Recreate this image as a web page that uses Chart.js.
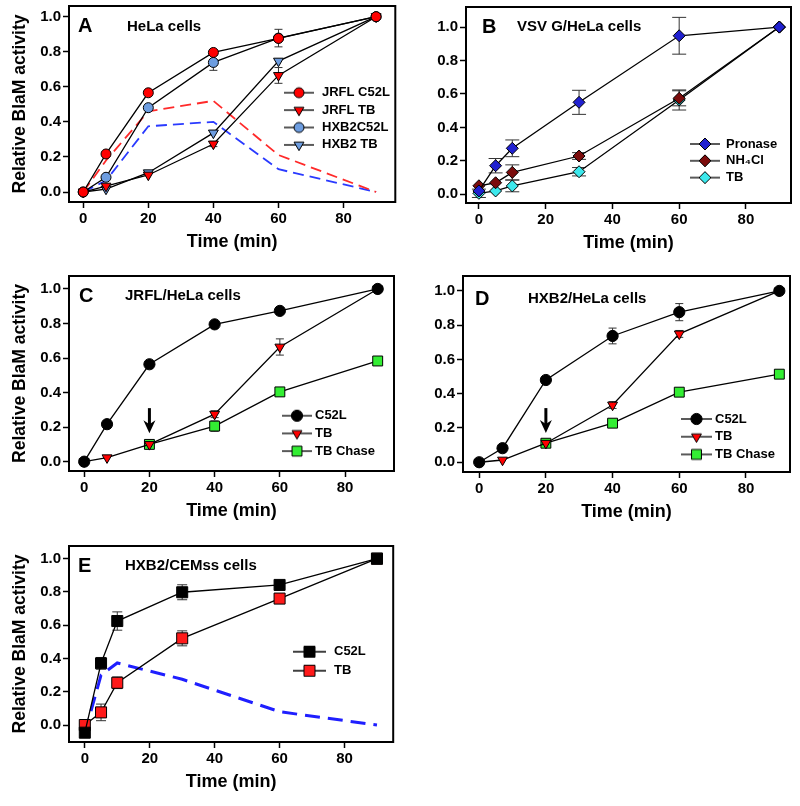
<!DOCTYPE html>
<html><head><meta charset="utf-8">
<script src="https://cdn.jsdelivr.net/npm/chart.js"></script>
<style>
html,body{margin:0;padding:0;background:#fff;}
#wrap{position:relative;width:800px;height:806px;overflow:hidden;background:#fff;}
#wrap canvas{position:absolute;}
</style></head><body><div id="wrap"></div>
<script>
// ================= DATA =================
const xTickValues = [0, 20, 40, 60, 80];
const yTickValues = [0, 0.2, 0.4, 0.6, 0.8, 1.0];

// Panel A – HeLa cells
const timeA = [0, 7, 20, 40, 60, 90];
const aJrflC52L = [0, 0.217, 0.566, 0.796, 0.876, 1.0];
const aJrflC52LErr = [0, 0, 0, 0.015, 0, 0];
const aJrflTB = [0, 0.034, 0.097, 0.274, 0.665, 1.0];
const aJrflTBErr = [0, 0, 0, 0.015, 0.045, 0];
const aHxb2C52L = [0, 0.084, 0.481, 0.739, 0.878, 1.0];
const aHxb2C52LErr = [0, 0, 0, 0.045, 0.05, 0];
const aHxb2TB = [0, 0.017, 0.11, 0.337, 0.747, 1.0];
const aJrflDiff = [0, 0.18, 0.46, 0.52, 0.211, 0];
const aHxb2Diff = [0, 0.065, 0.375, 0.40, 0.13, 0];

// Panel B – VSV G/HeLa cells
const timeB = [0, 5, 10, 30, 60, 90];
const bPronase = [0.02, 0.171, 0.275, 0.55, 0.948, 1.0];
const bPronaseErr = [0, 0.043, 0.05, 0.072, 0.11, 0];
const bNH4Cl = [0.051, 0.069, 0.131, 0.229, 0.574, 1.0];
const bNH4ClErr = [0, 0, 0.045, 0.02, 0.045, 0];
const bTB = [0.006, 0.02, 0.05, 0.135, 0.564, 1.0];
const bTBErr = [0.025, 0, 0.035, 0.025, 0.06, 0];

// Panel C – JRFL/HeLa cells
const timeC = [0, 7, 20, 40, 60, 90];
const timeChase = [20, 40, 60, 90];
const cC52L = [0, 0.217, 0.564, 0.795, 0.873, 1.0];
const cTB = [0, 0.023, 0.10, 0.275, 0.664, 1.0];
const cTBErr = [0, 0, 0.015, 0.02, 0.047, 0];
const cChase = [0.10, 0.206, 0.404, 0.583];
const cChaseErr = [0, 0.03, 0, 0];
const arrowC = [20, 0.31, 0.165];

// Panel D – HXB2/HeLa cells
const timeD = [0, 7, 20, 40, 60, 90];
const dC52L = [0, 0.082, 0.48, 0.737, 0.876, 1.0];
const dC52LErr = [0, 0, 0, 0.046, 0.05, 0];
const dTB = [0, 0.013, 0.111, 0.334, 0.749, 1.0];
const dTBErr = [0, 0, 0, 0.02, 0.02, 0];
const dChase = [0.111, 0.228, 0.409, 0.514];
const arrowD = [20, 0.316, 0.17];

// Panel E – HXB2/CEMss cells
const timeE = [0, 5, 10, 30, 60, 90];
const eC52L = [-0.046, 0.371, 0.625, 0.798, 0.842, 1.0];
const eC52LErr = [0.015, 0.035, 0.055, 0.045, 0.012, 0];
const eTB = [0, 0.076, 0.254, 0.521, 0.76, 1.0];
const eTBErr = [0.01, 0.05, 0.035, 0.045, 0.03, 0];
const eDiff = [-0.05, 0.30, 0.373, 0.275, 0.08, 0];

// ================= HELPERS =================
const FONT = 'Arial, "Liberation Sans", Helvetica, sans-serif';
Chart.defaults.font.family = FONT;
Chart.defaults.color = '#000';

function pts(xs, ys) { return xs.map((x, i) => ({ x: x, y: ys[i] })); }
function mk(style, r, fill, rot) { return { style: style, r: r, fill: fill, rot: rot || 0 }; }

function series(label, xs, ys, errs, m) {
  return {
    label: label, data: pts(xs, ys), errors: errs || null, legendMarker: m,
    showLine: true, borderColor: '#000', borderWidth: 1.3, tension: 0, fill: false,
    pointStyle: m.style, pointRadius: m.r, pointHoverRadius: m.r, pointRotation: m.rot,
    pointBackgroundColor: m.fill, pointBorderColor: '#000', pointBorderWidth: 1, order: 1
  };
}
function dashed(xs, ys, color, width, dash) {
  return { label: '', data: pts(xs, ys), showLine: true, borderColor: color, borderWidth: width,
    borderDash: dash, pointRadius: 0, pointHoverRadius: 0, tension: 0, fill: false, order: 10 };
}

function drawMarker(g, m, x, y) {
  const r = m.r;
  g.beginPath();
  if (m.style === 'circle') {
    g.arc(x, y, r, 0, Math.PI * 2);
  } else if (m.style === 'triangle') {
    let a = m.rot * Math.PI / 180;
    for (let k = 0; k < 3; k++) {
      const px = x + Math.sin(a) * r, py = y - Math.cos(a) * r;
      if (k === 0) g.moveTo(px, py); else g.lineTo(px, py);
      a += 2 * Math.PI / 3;
    }
  } else if (m.style === 'rectRot') {
    g.moveTo(x - r, y); g.lineTo(x, y - r); g.lineTo(x + r, y); g.lineTo(x, y + r);
  } else {
    const s = Math.SQRT1_2 * r;
    g.rect(x - s, y - s, 2 * s, 2 * s);
  }
  g.closePath();
  g.fillStyle = m.fill; g.fill();
  g.lineWidth = 1; g.strokeStyle = '#000'; g.stroke();
}
function makeIcon(m, L) {
  const c = document.createElement('canvas');
  c.width = L; c.height = 18;
  const g = c.getContext('2d');
  g.strokeStyle = '#000'; g.lineWidth = 1.3;
  g.beginPath(); g.moveTo(0, 9); g.lineTo(L, 9); g.stroke();
  drawMarker(g, m, L / 2, 9);
  return c;
}

// ================= PLUGINS =================
const errorBars = {
  id: 'errorBars',
  beforeDatasetsDraw(chart, args, o) {
    const ctx = chart.ctx, xs = chart.scales.x, ys = chart.scales.y;
    ctx.save();
    ctx.strokeStyle = '#333'; ctx.lineWidth = 1;
    chart.data.datasets.forEach(ds => {
      if (!ds.errors) return;
      ds.data.forEach((p, j) => {
        const e = ds.errors[j];
        if (!e) return;
        const px = xs.getPixelForValue(p.x);
        const y1 = ys.getPixelForValue(p.y - e), y2 = ys.getPixelForValue(p.y + e);
        ctx.beginPath();
        ctx.moveTo(px, y1); ctx.lineTo(px, y2);
        ctx.moveTo(px - o.cap, y1); ctx.lineTo(px + o.cap, y1);
        ctx.moveTo(px - o.cap, y2); ctx.lineTo(px + o.cap, y2);
        ctx.stroke();
      });
    });
    ctx.restore();
  }
};
const frame = {
  id: 'frame',
  afterDatasetsDraw(chart) {
    const ctx = chart.ctx, a = chart.chartArea;
    ctx.save(); ctx.lineWidth = 2; ctx.strokeStyle = '#000';
    ctx.strokeRect(a.left, a.top, a.right - a.left, a.bottom - a.top);
    ctx.restore();
  }
};
const panelText = {
  id: 'panelText',
  afterDraw(chart, args, o) {
    const ctx = chart.ctx, a = chart.chartArea;
    ctx.save(); ctx.fillStyle = '#000'; ctx.textBaseline = 'middle'; ctx.textAlign = 'left';
    ctx.font = 'bold 20px ' + FONT;
    ctx.fillText(o.letter, a.left + o.lx, a.top + o.ly);
    ctx.font = 'bold 15px ' + FONT;
    ctx.fillText(o.title, a.left + o.tx, a.top + o.ty);
    ctx.restore();
  }
};
const arrowPlugin = {
  id: 'arrow',
  afterDatasetsDraw(chart, args, o) {
    if (!o.data) return;
    const ctx = chart.ctx;
    const x = chart.scales.x.getPixelForValue(o.data[0]);
    const y1 = chart.scales.y.getPixelForValue(o.data[1]);
    const y2 = chart.scales.y.getPixelForValue(o.data[2]);
    ctx.save(); ctx.strokeStyle = '#000'; ctx.fillStyle = '#000'; ctx.lineWidth = 3;
    ctx.beginPath(); ctx.moveTo(x, y1); ctx.lineTo(x, y2 - 8); ctx.stroke();
    ctx.beginPath(); ctx.moveTo(x, y2); ctx.lineTo(x - 6, y2 - 13); ctx.lineTo(x, y2 - 9); ctx.lineTo(x + 6, y2 - 13);
    ctx.closePath(); ctx.fill();
    ctx.restore();
  }
};
const legendPos = {
  id: 'legendPos',
  afterLayout(chart, args, o) {
    const L = chart.legend; if (!L) return;
    const a = chart.chartArea, pad = L.options.labels.padding;
    const dx = a.left + o.x - pad - L.left, dy = a.top + o.y - pad - L.top;
    L.left += dx; L.right += dx; L.top += dy; L.bottom += dy;
  }
};

// ================= PANELS =================
const wrap = document.getElementById('wrap');

function makePanel(p) {
  const cv = document.createElement('canvas');
  const left = p.box[0] - 69, top = p.box[1] - 16;
  const W = p.box[2] + 5 - left, H = p.box[3] + 58 - top;
  cv.width = W; cv.height = H;
  cv.style.left = left + 'px'; cv.style.top = top + 'px';
  cv.style.width = W + 'px'; cv.style.height = H + 'px';
  wrap.appendChild(cv);
  const lg = p.legend;
  const psw = 2 * (lg.textX - lg.lineX - lg.lineLen / 2 - 6.5);
  new Chart(cv, {
    type: 'scatter',
    data: { datasets: p.datasets },
    options: {
      responsive: false, animation: false, events: [],
      layout: { padding: { left: 0, top: 16, right: 5, bottom: 7 } },
      scales: {
        x: {
          type: 'linear', min: p.xRange[0], max: p.xRange[1],
          afterFit: s => { s.height = 51; },
          afterBuildTicks: s => { s.ticks = xTickValues.map(v => ({ value: v })); },
          ticks: { padding: 2, color: '#000', autoSkip: false,
            font: { size: 15, weight: 'bold' }, callback: v => String(v) },
          grid: { drawOnChartArea: false, drawTicks: true, tickLength: 6, tickColor: '#000', tickWidth: 1.5 },
          border: { display: false },
          title: { display: true, text: 'Time (min)', color: '#000',
            font: { size: 18, weight: 'bold' }, padding: { top: 0, bottom: 0 } }
        },
        y: {
          type: 'linear', min: p.yRange[0], max: p.yRange[1],
          afterFit: s => { s.width = 69; },
          afterBuildTicks: s => { s.ticks = yTickValues.map(v => ({ value: v })); },
          ticks: { padding: 2, color: '#000', autoSkip: false,
            font: { size: 15, weight: 'bold' }, callback: v => Number(v).toFixed(1) },
          grid: { drawOnChartArea: false, drawTicks: true, tickLength: 6, tickColor: '#000', tickWidth: 1.5 },
          border: { display: false },
          title: { display: p.yTitle, text: 'Relative BlaM activity', color: '#000',
            font: { size: 17.5, weight: 'bold' }, padding: { top: 10, bottom: 0 } }
        }
      },
      plugins: {
        tooltip: { enabled: false },
        legend: {
          display: true, position: 'chartArea', align: 'start',
          labels: {
            usePointStyle: true, pointStyleWidth: psw, boxHeight: 13,
            padding: lg.spacing - 13, color: '#000',
            font: { size: 13, weight: 'bold' },
            generateLabels: chart => chart.data.datasets.map((ds, i) => ds.legendMarker ? {
              text: ds.label, pointStyle: makeIcon(ds.legendMarker, lg.lineLen),
              fillStyle: ds.legendMarker.fill, strokeStyle: '#000', lineWidth: 0,
              hidden: false, datasetIndex: i, fontColor: '#000', rotation: 0
            } : null).filter(Boolean)
          }
        },
        legendPos: { x: lg.lineX + lg.lineLen / 2 - psw / 2, y: lg.rowY - 6.5 },
        errorBars: { cap: p.cap },
        panelText: p.text,
        arrow: { data: p.arrow || null }
      }
    },
    plugins: [errorBars, frame, panelText, arrowPlugin, legendPos]
  });
}

const RED = '#ff0000', LBLUE = '#6d9de0', GREEN = '#33ee33';

makePanel({
  box: [69, 6, 397, 202], xRange: [-4.37, 95.9], yRange: [-0.057, 1.061], yTitle: true, cap: 4,
  text: { letter: 'A', lx: 9, ly: 20, title: 'HeLa cells', tx: 58, ty: 21 },
  legend: { lineX: 215, rowY: 86.7, lineLen: 30, textX: 253, spacing: 17.4 },
  datasets: [
    series('JRFL C52L', timeA, aJrflC52L, aJrflC52LErr, mk('circle', 5, RED)),
    series('JRFL TB', timeA, aJrflTB, aJrflTBErr, mk('triangle', 5.7, RED, 180)),
    series('HXB2C52L', timeA, aHxb2C52L, aHxb2C52LErr, mk('circle', 5, LBLUE)),
    series('HXB2 TB', timeA, aHxb2TB, null, mk('triangle', 5.7, LBLUE, 180)),
    dashed(timeA, aJrflDiff, '#ff2a2a', 1.8, [11, 6]),
    dashed(timeA, aHxb2Diff, '#2a3aff', 1.8, [11, 6])
  ]
});

makePanel({
  box: [466, 7, 793, 203], xRange: [-3.87, 93.5], yRange: [-0.052, 1.12], yTitle: false, cap: 7,
  text: { letter: 'B', lx: 16, ly: 20, title: 'VSV G/HeLa cells', tx: 51, ty: 20 },
  legend: { lineX: 224, rowY: 137, lineLen: 30, textX: 260, spacing: 16.8 },
  datasets: [
    series('Pronase', timeB, bPronase, bPronaseErr, mk('rectRot', 6, '#2020d0')),
    series('NH\u2084Cl', timeB, bNH4Cl, bNH4ClErr, mk('rectRot', 6, '#7b0c0c')),
    series('TB', timeB, bTB, bTBErr, mk('rectRot', 6, '#3ce8ec'))
  ]
});

makePanel({
  box: [69, 276, 397, 471], xRange: [-4.66, 95], yRange: [-0.054, 1.075], yTitle: true, cap: 4,
  text: { letter: 'C', lx: 10, ly: 20, title: 'JRFL/HeLa cells', tx: 56, ty: 20 },
  legend: { lineX: 213, rowY: 139.7, lineLen: 30, textX: 246, spacing: 17.7 },
  arrow: arrowC,
  datasets: [
    series('C52L', timeC, cC52L, null, mk('circle', 5.6, '#000')),
    series('TB', timeC, cTB, cTBErr, mk('triangle', 5.7, RED, 180)),
    series('TB Chase', timeChase, cChase, cChaseErr, mk('rect', 7, GREEN))
  ]
});

makePanel({
  box: [463, 276, 793, 472], xRange: [-4.85, 93.2], yRange: [-0.057, 1.087], yTitle: false, cap: 4,
  text: { letter: 'D', lx: 12, ly: 23, title: 'HXB2/HeLa cells', tx: 65, ty: 23 },
  legend: { lineX: 218, rowY: 143, lineLen: 31, textX: 252, spacing: 17.7 },
  arrow: arrowD,
  datasets: [
    series('C52L', timeD, dC52L, dC52LErr, mk('circle', 5.6, '#000')),
    series('TB', timeD, dTB, dTBErr, mk('triangle', 5.7, RED, 180)),
    series('TB Chase', timeChase, dChase, null, mk('rect', 7, GREEN))
  ]
});

makePanel({
  box: [69, 546, 397, 742], xRange: [-4.87, 95], yRange: [-0.102, 1.076], yTitle: true, cap: 5,
  text: { letter: 'E', lx: 9, ly: 20, title: 'HXB2/CEMss cells', tx: 56, ty: 20 },
  legend: { lineX: 224, rowY: 105.7, lineLen: 33, textX: 265, spacing: 19 },
  datasets: [
    series('C52L', timeE, eC52L, eC52LErr, mk('rect', 7.8, '#000')),
    series('TB', timeE, eTB, eTBErr, mk('rect', 7.8, '#ff1a1a')),
    dashed(timeE, eDiff, '#1f1fff', 3, [15, 8])
  ]
});
</script>
</body></html>
